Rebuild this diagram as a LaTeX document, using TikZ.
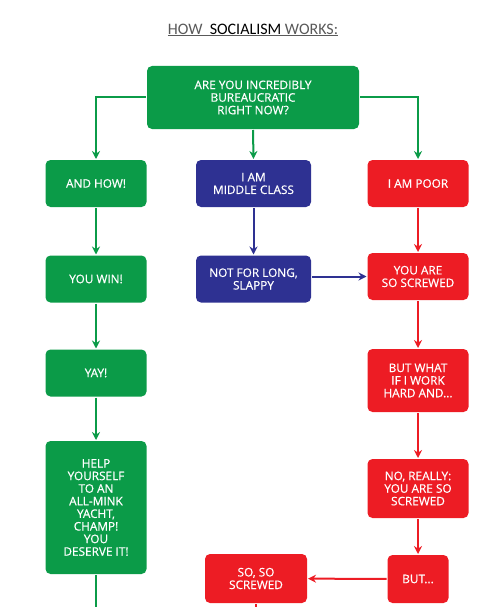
\documentclass[tikz,border=0pt]{standalone}
\usepackage{fontspec}
\setmainfont{Open Sans}
\newfontfamily\boxfont{Open Sans}[FakeBold=0.6]
\newfontfamily\titlefont{Carlito}
\usetikzlibrary{arrows.meta}
\definecolor{chartgreen}{HTML}{0B9B48}
\definecolor{chartblue}{HTML}{2E3192}
\definecolor{chartred}{HTML}{ED1C24}
\definecolor{titlegray}{HTML}{595959}

\begin{document}
\begin{tikzpicture}[x=1pt,y=-1pt,>={Stealth[length=8pt,width=8pt]},line width=2pt,
  box/.style={rounded corners=5pt,text=white,align=center,inner sep=0pt,
    font=\boxfont\fontsize{11.8}{12.6}\selectfont,minimum width=101pt,minimum height=47pt},
  green box/.style={box,fill=chartgreen},
  blue box/.style={box,fill=chartblue,minimum width=115pt},
  red box/.style={box,fill=chartred}]

  \useasboundingbox (0,0) rectangle (500,607);

  \node (title) at (253,30) {\titlefont\fontsize{16}{18}\selectfont\color{titlegray}%
    \underline{HOW\ \ {\color{black}SOCIALISM} WORKS:}};

  % first question
  \node[green box,minimum width=212pt,minimum height=63pt] (ask) at (253,97.5)
    {ARE YOU INCREDIBLY\\BUREAUCRATIC\\RIGHT NOW?};

  % rich column
  \node[green box] (andhow) at (96,183.5) {AND HOW!};
  \node[green box] (youwin) at (96,279) {YOU WIN!};
  \node[green box] (yay) at (96,373) {YAY!};
  \node[green box,minimum height=133pt] (help) at (96,507.5)
    {HELP\\YOURSELF\\TO AN\\ALL-MINK\\YACHT,\\CHAMP!\\YOU\\DESERVE IT!};
  \coordinate (helpout) at (96,622);

  % middle column
  \node[blue box] (middle) at (253.5,183.5) {I AM\\MIDDLE CLASS};
  \node[blue box] (slappy) at (253.5,279) {NOT FOR LONG,\\SLAPPY};

  % poor column
  \node[red box] (poor) at (418,183.5) {I AM POOR};
  \node[red box] (screwed) at (418,276.5) {YOU ARE\\SO SCREWED};
  \node[red box,minimum height=63pt] (workhard) at (418,380.5) {BUT WHAT\\IF I WORK\\HARD AND...};
  \node[red box,minimum height=59pt] (really) at (418,488.5) {NO, REALLY:\\YOU ARE SO\\SCREWED};
  \node[red box,minimum width=61pt,minimum height=48pt] (but) at (418,579) {BUT...};
  \node[red box,minimum width=102pt,minimum height=49pt] (soso) at (256,578.5) {SO, SO\\SCREWED};
  \coordinate (sosoout) at (256,640);

  \draw[->,chartgreen] (ask.west) -| (andhow.north);
  \draw[->,chartgreen] (ask.east) -| (poor.north);
  \draw[->,chartgreen] (ask.south) -- (middle.north);
  \draw[->,chartgreen] (andhow) -- (youwin);
  \draw[->,chartgreen] (youwin) -- (yay);
  \draw[->,chartgreen] (yay) -- (help);
  \draw[->,chartgreen] (help) -- (helpout);

  \draw[->,chartblue] (middle) -- (slappy);
  \draw[->,chartblue] (slappy.east |- screwed.west) -- (screwed.west);

  \draw[->,chartred] (poor) -- (screwed);
  \draw[->,chartred] (screwed) -- (workhard);
  \draw[->,chartred] (workhard) -- (really);
  \draw[->,chartred] (really) -- (but);
  \draw[->,chartred] (but) -- (soso);
  \draw[->,chartred] (soso) -- (sosoout);
\end{tikzpicture}
\end{document}
